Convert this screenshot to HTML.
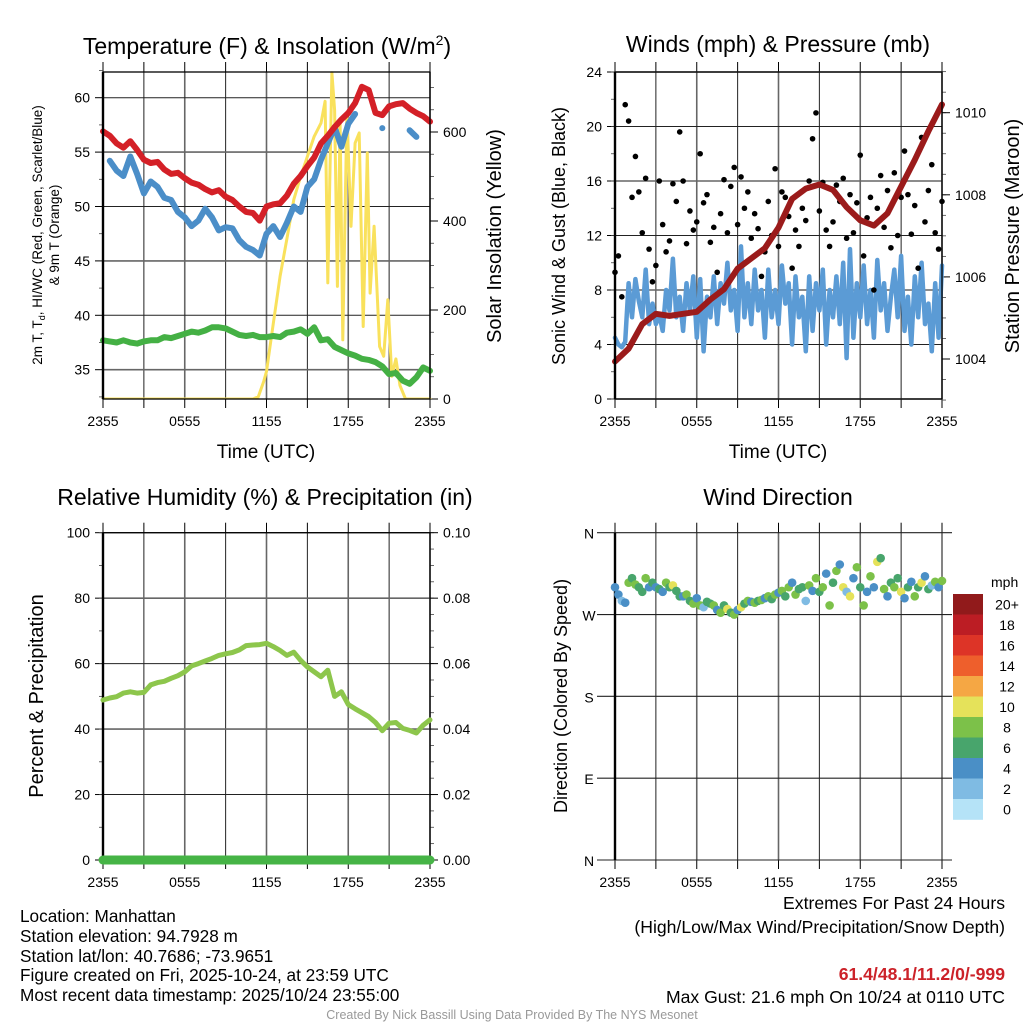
<!DOCTYPE html>
<html><head><meta charset="utf-8"><style>
html,body{margin:0;padding:0;background:#fff;}
svg{display:block;font-family:"Liberation Sans",sans-serif;}
.nar{font-family:"Liberation Sans Narrow","Liberation Sans",sans-serif;}
</style></head><body>
<svg id="fig" width="1024" height="1024" viewBox="0 0 1024 1024" xmlns="http://www.w3.org/2000/svg">
<rect width="1024" height="1024" fill="#fff"/>
<text x="267" y="54" font-size="23" text-anchor="middle">Temperature (F) &amp; Insolation (W/m<tspan font-size="14" dy="-9">2</tspan><tspan dy="9">)</tspan></text>
<text x="778" y="52" font-size="23" text-anchor="middle">Winds (mph) &amp; Pressure (mb)</text>
<text x="265" y="505" font-size="23" text-anchor="middle">Relative Humidity (%) &amp; Precipitation (in)</text>
<text x="778" y="505" font-size="23" text-anchor="middle">Wind Direction</text>
<text x="266" y="458" font-size="19" text-anchor="middle">Time (UTC)</text>
<text x="778" y="458" font-size="19" text-anchor="middle">Time (UTC)</text>
<text transform="translate(42,235) rotate(-90)" font-size="13.5" text-anchor="middle">2m T, T<tspan font-size="9" dy="3">d</tspan><tspan dy="-3">, HI/WC (Red, Green, Scarlet/Blue)</tspan></text>
<text transform="translate(59,235) rotate(-90)" font-size="13.5" text-anchor="middle">&amp; 9m T (Orange)</text>
<text transform="translate(501,236) rotate(-90)" font-size="20" text-anchor="middle">Solar Insolation (Yellow)</text>
<text transform="translate(565,236) rotate(-90)" font-size="18" text-anchor="middle">Sonic Wind &amp; Gust (Blue, Black)</text>
<text transform="translate(1019,236) rotate(-90)" font-size="20" text-anchor="middle">Station Pressure (Maroon)</text>
<text transform="translate(43,696) rotate(-90)" font-size="20" text-anchor="middle">Percent &amp; Precipitation</text>
<text transform="translate(567,696) rotate(-90)" font-size="18" text-anchor="middle">Direction (Colored By Speed)</text>
<g class="nar" font-size="17.2">
<text x="20" y="922">Location: Manhattan</text>
<text x="20" y="942">Station elevation: 94.7928 m</text>
<text x="20" y="962">Station lat/lon: 40.7686; -73.9651</text>
<text x="20" y="981">Figure created on Fri, 2025-10-24, at 23:59 UTC</text>
<text x="20" y="1001">Most recent data timestamp: 2025/10/24 23:55:00</text>
</g>
<g class="nar" font-size="17.6" text-anchor="end">
<text x="1005" y="909">Extremes For Past 24 Hours</text>
<text x="1005" y="933">(High/Low/Max Wind/Precipitation/Snow Depth)</text>
<text x="1005" y="980" font-weight="bold" fill="#cc2229">61.4/48.1/11.2/0/-999</text>
<text x="1005" y="1003">Max Gust: 21.6 mph On 10/24 at 0110 UTC</text>
</g>
<text x="512" y="1019" class="nar" font-size="12.5" fill="#999" text-anchor="middle">Created By Nick Bassill Using Data Provided By The NYS Mesonet</text>
</svg>
<script>
const hourTicks = ["2355","0555","1155","1755","2355"];
const tempTicks = [35,40,45,50,55,60];
const solarTicks = [0,200,400,600];
const windTicks = [0,4,8,12,16,20,24];
const presTicks = [1004,1006,1008,1010];
const rhTicks = [0,20,40,60,80,100];
const precipTicks = ["0.00","0.02","0.04","0.06","0.08","0.10"];
const dirTicks = ["N","E","S","W","N"];
const speedBins = ["0","2","4","6","8","10","12","14","16","18","20+"];
const speedColors = ["#b5e3f7","#7fbbe3","#4a8fc6","#48a56c","#7cc149","#e5e25a","#f5a744","#ee5f2c","#dd3427","#bc1d24","#911a1b"];

const tempRed = [56.9,56.5,55.8,55.4,56.0,55.2,54.3,54.0,54.1,53.4,53.0,53.1,52.6,52.2,52.0,51.6,51.3,51.5,50.9,50.6,50.0,49.5,49.4,48.7,50.0,50.2,50.3,51.0,52.1,52.8,53.7,54.5,55.8,56.5,57.3,58.0,58.6,59.5,61.0,60.7,58.6,58.4,59.2,59.4,59.5,59.0,58.6,58.3,57.8];
const tempBlue = [null,54.2,53.3,52.8,54.6,53.0,51.2,52.3,51.8,50.8,50.6,49.5,49.0,48.2,48.7,49.8,49.0,47.8,48.1,48.0,46.9,46.3,46.0,45.5,47.5,48.2,47.2,48.5,50.0,49.5,51.8,52.5,54.3,55.8,57.3,55.5,57.6,58.5,null,null,null,57.2,null,null,null,57.0,56.4,null,null];
const dewGreen = [37.7,37.6,37.5,37.7,37.5,37.4,37.6,37.7,37.7,38.0,37.9,38.1,38.3,38.5,38.4,38.6,38.9,38.9,38.8,38.5,38.2,38.1,38.2,38.0,38.0,38.1,38.0,38.4,38.5,38.7,38.3,38.9,37.7,37.8,37.1,36.8,36.5,36.3,36.0,35.9,35.7,35.3,34.6,34.7,34.0,33.7,34.3,35.2,34.9];
const solarHours = [0,11,11.4,11.8,12,12.5,13,13.5,14,14.5,15,15.5,16,16.3,16.5,16.8,17,17.2,17.4,17.6,17.9,18.2,18.5,18.8,19.1,19.4,19.6,19.9,20.3,20.6,20.9,21.2,21.5,21.8,22.2,24];
const solarValues = [0,0,5,40,62,170,276,360,448,500,545,590,620,669,261,733,650,253,620,133,643,388,575,598,163,553,238,388,118,96,223,51,90,30,0,0];
const windSpeed = [4.5,4.0,3.8,4.2,8.5,6.0,8.8,7.2,6.0,9.5,5.5,7.0,5.5,6.2,5.0,8.0,6.5,10.3,6.0,7.5,5.0,8.5,6.5,9.0,4.5,8.8,3.5,7.5,6.0,9.0,5.5,8.5,7.0,10.0,6.5,8.0,5.0,11.2,6.0,8.5,5.5,9.5,6.5,8.0,4.5,9.5,6.0,8.0,5.5,9.8,7.0,8.5,4.0,9.0,6.0,7.5,3.5,9.0,5.0,8.5,6.5,9.5,4.0,8.0,6.0,9.0,5.5,10.0,3.0,11.0,4.5,8.5,6.0,9.8,5.5,8.0,4.5,10.2,6.5,8.5,5.0,7.5,9.5,6.0,10.5,5.0,7.5,4.0,9.0,6.0,10.0,5.5,7.0,3.5,8.5,4.5,9.8];
const windGust = [9.3,10.5,7.5,21.6,20.4,14.8,17.8,15.2,12.2,16.2,11.0,8.6,9.8,16.0,12.8,10.8,11.6,15.8,14.5,19.6,16.0,11.4,13.8,12.4,13.0,18.0,14.4,15.0,11.5,12.6,9.3,13.6,16.1,12.2,15.6,17.0,12.8,16.3,14.0,15.2,11.8,13.6,12.5,9.0,10.8,14.5,12.0,16.9,11.2,15.2,14.8,13.4,9.6,12.4,11.2,14.0,13.1,16.0,19.1,21.0,13.8,15.9,12.4,11.2,13.0,15.7,14.5,16.2,11.8,15.0,12.2,14.4,17.9,10.5,13.3,14.8,8.0,14.0,16.4,12.6,15.3,11.1,16.6,12.0,14.8,18.2,15.0,12.1,14.2,9.6,19.2,13.0,15.3,17.2,12.2,11.0,14.5];
const pressure = [1003.94,1004.25,1004.85,1005.1,1005.05,1005.1,1005.15,1005.45,1005.7,1006.2,1006.45,1006.7,1007.2,1007.9,1008.15,1008.25,1008.12,1007.7,1007.38,1007.25,1007.55,1008.2,1008.85,1009.55,1010.2];
const windDir = [300,292,285,283,305,310,303,300,295,310,300,305,300,298,295,305,300,302,296,290,290,292,285,282,288,280,278,284,282,280,275,272,280,276,272,270,275,278,282,285,284,283,285,286,288,290,287,292,294,296,290,300,305,292,298,300,285,302,296,310,295,300,315,280,305,318,325,300,295,290,310,322,300,280,295,312,300,328,332,298,290,305,300,310,295,288,300,306,290,300,305,312,298,302,306,300,307];
const rh = [48.9,49.5,49.9,51.0,51.4,51.0,51.2,53.5,54.2,54.6,55.5,56.3,57.5,59.3,60.0,60.8,61.6,62.5,63.0,63.4,64.2,65.5,65.7,65.8,66.2,65.2,64.0,62.5,63.5,61.0,59.0,57.5,56.0,58.0,50.0,51.4,47.5,46.2,45.0,43.8,42.0,39.5,41.8,42.0,40.2,39.6,38.8,41.2,42.8];
const precip = [0,0,0,0,0,0,0,0,0,0,0,0,0,0,0,0,0,0,0,0,0,0,0,0,0];

const NS = "http://www.w3.org/2000/svg";
const svg = document.getElementById("fig");
function mk(tag, attrs, parent){const e=document.createElementNS(NS,tag);for(const k in attrs)e.setAttribute(k,attrs[k]);(parent||svg).appendChild(e);return e;}
function lin(d0,d1,r0,r1){return v=>r0+(v-d0)*(r1-r0)/(d1-d0);}

function panel(name,x0,x1,y0,y1){
  const g=mk("g",{});
  
  
  for(let i=0;i<=8;i++){
    const x=x0+(x1-x0)*i/8;
    const l=mk("line",{x1:x,x2:x,y1:y0,y2:y1,stroke:i%2?"#222":"#666","stroke-width":i%2?1:1.6},g);
    
    
    mk("line",{x1:x,x2:x,y1:y0-10,y2:y0,stroke:"#000","stroke-width":1},g);
    mk("line",{x1:x,x2:x,y1:y1,y2:y1+9,stroke:"#000","stroke-width":1},g);
  }
  hourTicks.forEach((t,i)=>{
    const tx=mk("text",{x:x0+(x1-x0)*i/4,y:y1+27,"font-size":14,"text-anchor":"middle"},g);
    tx.textContent=t;
    
    
  });
  return g;
}
function hline(g,y,x0,x1,dark){mk("line",{x1:x0,x2:x1,y1:y,y2:y,stroke:dark?"#222":"#666","stroke-width":dark?1:1.6},g);}
function frame(g,x0,x1,y0,y1){
  mk("rect",{x:x0,y:y0,width:x1-x0,height:y1-y0,fill:"none",stroke:"#000","stroke-width":1.3},g);
  mk("line",{x1:x0,x2:x0,y1:y0,y2:y1,stroke:"#000","stroke-width":2.4},g);
}
function leftTicks(g,vals,sy,x0,fmt){
  vals.forEach(v=>{const y=sy(v);mk("line",{x1:x0-8,x2:x0,y1:y,y2:y,stroke:"#000"},g);
    const t=mk("text",{x:x0-13,y:y+5,"font-size":14,"text-anchor":"end"},g);t.textContent=fmt?fmt(v):v;
    });
}
function rightTicks(g,labels,ys,x1){
  labels.forEach((v,i)=>{const y=ys[i];mk("line",{x1:x1,x2:x1+8,y1:y,y2:y,stroke:"#000"},g);
    const t=mk("text",{x:x1+13,y:y+5,"font-size":14},g);t.textContent=v;
    });
}
function minorTicks(g,x,ya,yb,n,side){for(let i=0;i<=n;i++){const y=ya+(yb-ya)*i/n;mk("line",{x1:x,x2:x+side*4,y1:y,y2:y,stroke:"#444","stroke-width":0.8},g);}}
function seriesPath(g,vals,sx,sy,color,w,name,hoursArr){
  let d="",pen=false;
  vals.forEach((v,i)=>{const h=hoursArr?hoursArr[i]:i*24/(vals.length-1);
    if(v===null||v===undefined){pen=false;return;}
    const x=sx(h),y=sy(v);d+=(pen?"L":"M")+x.toFixed(1)+","+y.toFixed(1);pen=true;});
  const p=mk("path",{d:d,fill:"none",stroke:color,"stroke-width":w,"stroke-linejoin":"round","stroke-linecap":"round"},g);
  
  
  return p;
}

// ---- Panel 1: temperature
(function(){
  const x0=103,x1=430,y0=72,y1=399;
  const sx=lin(0,24,x0,x1), sy=lin(35,60,369.7,97.7), ss=lin(0,600,399,132);
  const g=panel("temperature-panel",x0,x1,y0,y1);
  tempTicks.forEach(v=>hline(g,sy(v),x0,x1,v%10===0));
  hline(g,y1,x0,x1,true);
  minorTicks(g,x0,sy(32.5),sy(62.5),6,-1);
  leftTicks(g,tempTicks,sy,x0);
  minorTicks(g,x1,ss(0),ss(700),14,1);
  rightTicks(g,solarTicks,solarTicks.map(ss),x1);
  const cg=mk("g",{"clip-path":"url(#c1)"},g);
  const cp=mk("clipPath",{id:"c1"},svg);mk("rect",{x:x0-4,y:y0-2,width:x1-x0+8,height:y1-y0+2},cp);
  seriesPath(cg,solarValues,sx,ss,"#f9e15c",3,"solar-insolation-line",solarHours);
  seriesPath(cg,dewGreen,sx,sy,"#44b044",6,"dewpoint-line");
  seriesPath(cg,tempBlue,sx,sy,"#4b8ec8",6,"wind-chill-line");
  tempBlue.forEach((v,i)=>{if(v!==null&&tempBlue[i-1]==null&&tempBlue[i+1]==null){const c=mk("circle",{cx:sx(i/2),cy:sy(v),r:3,fill:"#4b8ec8"},cg);}});
  seriesPath(cg,tempRed,sx,sy,"#d42027",6,"temperature-line");
  frame(g,x0,x1,y0,y1);
})();

// ---- Panel 2: winds
(function(){
  const x0=615,x1=942,y0=72,y1=399;
  const sx=lin(0,24,x0,x1), sy=lin(0,24,y1,y0), sp=lin(1004,1010,359,112.7);
  const g=panel("winds-panel",x0,x1,y0,y1);
  windTicks.forEach((v,i)=>hline(g,sy(v),x0,x1,i%2===1));
  leftTicks(g,windTicks,sy,x0);
  minorTicks(g,x0,sy(0),sy(24),12,-1);
  minorTicks(g,x1,sp(1003),sp(1011),16,1);
  rightTicks(g,presTicks,presTicks.map(sp),x1);
  seriesPath(g,windSpeed,sx,sy,"#5b9bd5",4.5,"wind-speed-line");
  windGust.forEach((v,i)=>{const c=mk("circle",{cx:sx(i*24/(windGust.length-1)),cy:sy(v),r:2.8,fill:"#000"},g);
    });
  seriesPath(g,pressure,sx,sp,"#9b1b1b",6,"pressure-line");
  frame(g,x0,x1,y0,y1);
})();

// ---- Panel 3: RH
(function(){
  const x0=103,x1=430,y0=532.7,y1=860;
  const sx=lin(0,24,x0,x1), sy=lin(0,100,y1,y0), spr=lin(0,0.1,y1,y0);
  const g=panel("humidity-panel",x0,x1,y0,y1);
  rhTicks.forEach((v,i)=>hline(g,sy(v),x0,x1,i%2===1||v===0||v===100));
  leftTicks(g,rhTicks,sy,x0);
  minorTicks(g,x0,sy(0),sy(100),10,-1);
  minorTicks(g,x1,sy(0),sy(100),20,1);
  rightTicks(g,precipTicks,precipTicks.map(v=>spr(+v)),x1);
  frame(g,x0,x1,y0,y1);
  seriesPath(g,precip,sx,spr,"#46b446",9,"precipitation-line");
  seriesPath(g,rh,sx,sy,"#8dc64c",5,"relative-humidity-line");
})();

// ---- Panel 4: wind direction
(function(){
  const x0=615,x1=942,y0=532.7,y1=860;
  const sx=lin(0,24,x0,x1), sd=lin(0,360,y1,y0);
  const g=panel("wind-direction-panel",x0,x1,y0,y1);
  dirTicks.forEach((t,i)=>{const y=sd(i*90);mk("line",{x1:x0-18,x2:x1+10,y1:y,y2:y,stroke:"#222","stroke-width":1.1},g);
    const tx=mk("text",{x:x0-26,y:y+6,"font-size":14,"text-anchor":"middle"},g);tx.textContent=t;
    });
  mk("line",{x1:x0,x2:x0,y1:y0,y2:y1,stroke:"#000","stroke-width":2.4},g);
  windDir.forEach((v,i)=>{const sp=windSpeed[i];const bin=Math.min(10,Math.floor(sp/2));
    const c=mk("circle",{cx:sx(i*24/(windDir.length-1)),cy:sd(v),r:4.3,fill:speedColors[bin]},g);
    });
  const lg=mk("g",{},svg);
  
  
  const t0=mk("text",{x:991,y:587,"font-size":14},lg);t0.textContent="mph";
  
  const bh=20.5, top=594;
  speedBins.forEach((lab,i)=>{const k=10-i;const y=top+i*bh;
    const r=mk("rect",{x:953,y:y,width:30,height:bh+0.3,fill:speedColors[k]},lg);
    
    const t=mk("text",{x:1007,y:y+bh/2+5,"font-size":14,"text-anchor":"middle"},lg);t.textContent=speedBins[k];
    });
})();
</script>
</body></html>
